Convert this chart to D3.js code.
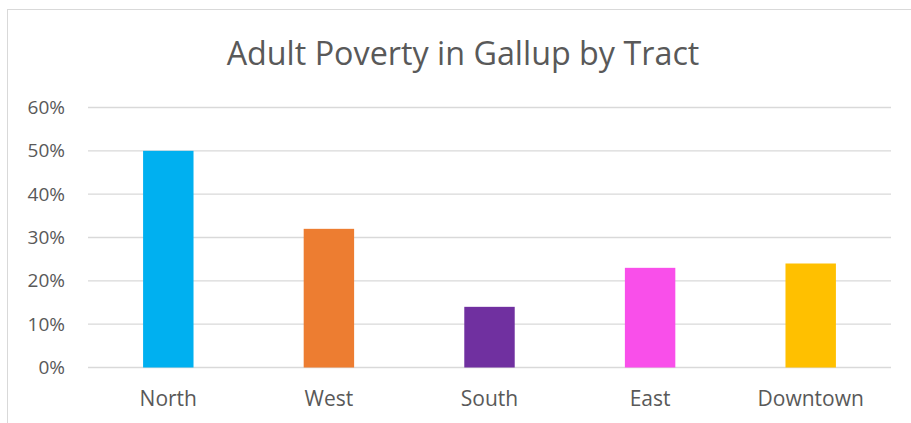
<!DOCTYPE html>
<html>
<head>
<meta charset="utf-8">
<script src="https://cdn.jsdelivr.net/npm/d3@7"></script>
<style>
  body { margin: 0; background: #fff; }
  text { font-family: "Open Sans", sans-serif; fill: #595959; }
</style>
</head>
<body>
<div id="chart"></div>
<script>
var categories = ["North", "West", "South", "East", "Downtown"];
var values = [0.50, 0.32, 0.14, 0.23, 0.24];
var barColors = ["#00B0F0", "#ED7D31", "#7030A0", "#F94FEA", "#FFC000"];
var yTicks = [0, 0.1, 0.2, 0.3, 0.4, 0.5, 0.6];
var title = "Adult Poverty in Gallup by Tract";

var width = 911, height = 423;
var svg = d3.select("#chart").append("svg")
  .attr("width", width)
  .attr("height", height);

// chart border
svg.append("rect")
  .attr("x", 7.5).attr("y", 9.5)
  .attr("width", 920).attr("height", 430)
  .attr("fill", "#fff")
  .attr("stroke", "#d9d9d9")
  .attr("stroke-width", 1);

svg.append("text")
  .attr("x", 463).attr("y", 65)
  .attr("text-anchor", "middle")
  .style("font-size", "32.3px")
  .text(title);

var x = d3.scaleBand()
  .domain(categories)
  .range([88, 891])
  .paddingInner(0.686)
  .paddingOuter(0.343);

var y = d3.scaleLinear()
  .domain([0, 0.6])
  .range([367.5, 107.5]);

// gridlines
svg.append("g").selectAll("line")
  .data(yTicks)
  .join("line")
  .attr("x1", 88).attr("x2", 891)
  .attr("y1", function(d){ return y(d); })
  .attr("y2", function(d){ return y(d); })
  .attr("stroke", "#d9d9d9")
  .attr("stroke-width", 1.3);

// y axis labels
var yAxis = d3.axisLeft(y)
  .tickValues(yTicks)
  .tickFormat(d3.format(".0%"))
  .tickSize(0)
  .tickPadding(0);
var gy = svg.append("g")
  .attr("transform", "translate(65,0)")
  .call(yAxis);
gy.select(".domain").remove();
gy.selectAll("text")
  .style("font-size", "19px")
  .style("font-family", "'Open Sans', sans-serif")
  .attr("fill", "#595959");

// bars
svg.append("g").selectAll("rect")
  .data(values)
  .join("rect")
  .attr("x", function(d, i){ return x(categories[i]); })
  .attr("width", x.bandwidth())
  .attr("y", function(d){ return y(d); })
  .attr("height", function(d){ return y(0) - y(d); })
  .attr("fill", function(d, i){ return barColors[i]; });

// category labels
var xAxis = d3.axisBottom(x).tickSize(0).tickPadding(0);
var gx = svg.append("g")
  .attr("transform", "translate(0,391)")
  .call(xAxis);
gx.select(".domain").remove();
gx.selectAll("text")
  .style("font-size", "21px")
  .style("font-family", "'Open Sans', sans-serif")
  .attr("fill", "#595959");
</script>
</body>
</html>
